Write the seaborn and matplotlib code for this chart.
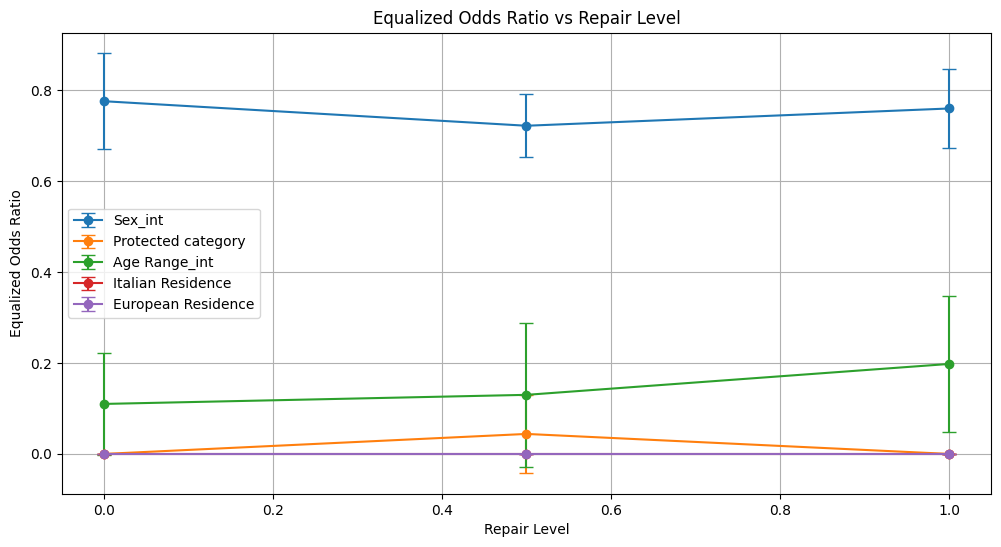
import matplotlib
matplotlib.use("Agg")
import matplotlib.pyplot as plt
import seaborn as sns
import numpy as np

repair_levels = [0.0, 0.5, 1.0]
series_names = ["Sex_int", "Protected category", "Age Range_int",
                "Italian Residence", "European Residence"]
sex_mean = [0.776, 0.722, 0.760]
sex_err = [0.105, 0.069, 0.086]
prot_mean = [0.0, 0.044, 0.0]
prot_err = [0.0, 0.086, 0.0]
age_mean = [0.110, 0.130, 0.198]
age_err = [0.112, 0.159, 0.149]
ital_mean = [0.0, 0.0, 0.0]
ital_err = [0.0, 0.0, 0.0]
euro_mean = [0.0, 0.0, 0.0]
euro_err = [0.0, 0.0, 0.0]

means = [sex_mean, prot_mean, age_mean, ital_mean, euro_mean]
errs = [sex_err, prot_err, age_err, ital_err, euro_err]

palette = sns.color_palette("tab10", 5)

fig = plt.figure(figsize=(10.01, 5.47), dpi=100)
ax = fig.add_axes([61.5 / 1001, (547 - 494) / 547, 930 / 1001, 461.5 / 547])

for name, m, e, c in zip(series_names, means, errs, palette):
    ax.errorbar(repair_levels, m, yerr=e, label=name, marker="o",
                capsize=5, color=c)

ax.set_title("Equalized Odds Ratio vs Repair Level")
ax.set_xlabel("Repair Level")
ax.set_ylabel("Equalized Odds Ratio")
ax.grid(True)
ax.legend(loc="center left")

fig.savefig("out.png", dpi=100)
